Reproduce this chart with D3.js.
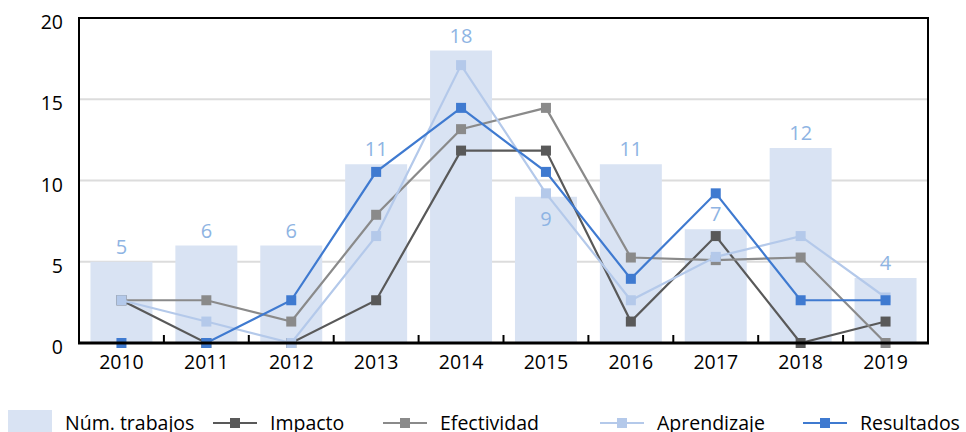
<!DOCTYPE html>
<html>
<head>
<meta charset="utf-8">
<script src="https://cdn.jsdelivr.net/npm/d3@7"></script>
<style>
  html, body { margin: 0; padding: 0; background: #fff; }
  svg { display: block; font-family: "Open Sans", sans-serif; }
</style>
</head>
<body>
<svg id="chart" width="966" height="432"></svg>
<script>
// ---- data ----
const years = ["2010","2011","2012","2013","2014","2015","2016","2017","2018","2019"];
const trabajos = [5, 6, 6, 11, 18, 9, 11, 7, 12, 4];
const impacto = [2.63, 0, 0, 2.63, 11.84, 11.84, 1.32, 6.58, 0, 1.32];
const efectividad = [2.63, 2.63, 1.32, 7.89, 13.16, 14.47, 5.26, 5.1, 5.26, 0];
const aprendizaje = [2.63, 1.32, 0, 6.58, 17.1, 9.21, 2.63, 5.3, 6.58, 2.8];
const resultados = [0, 0, 2.63, 10.53, 14.47, 10.53, 3.95, 9.21, 2.63, 2.63];
const yTicks = [0, 5, 10, 15, 20];
const seriesNames = ["Impacto", "Efectividad", "Aprendizaje", "Resultados"];
const barName = "Núm. trabajos";
const labelsInside = ["2015"];

(function () {
// ---- styles ----
const colors = {
  "Impacto": "#595959",
  "Efectividad": "#8a8a8a",
  "Aprendizaje": "#b4c9ea",
  "Resultados": "#3f7ad0"
};
const barColor = "#d9e3f3";
const barLabelColor = "#8eb4e3";

const series = [
  { name: "Impacto", values: impacto },
  { name: "Efectividad", values: efectividad },
  { name: "Aprendizaje", values: aprendizaje },
  { name: "Resultados", values: resultados }
];

const svg = d3.select("#chart");
const pLeft = 79, pRight = 928, pTop = 18, pBottom = 343;

const x = d3.scaleBand().domain(years).range([pLeft, pRight])
  .paddingInner(0.27).paddingOuter(0.135);
const y = d3.scaleLinear().domain([0, 20]).range([pBottom, pTop]);

// gridlines
svg.append("g").selectAll("line")
  .data(yTicks.filter(t => t > 0 && t < 20))
  .join("line")
  .attr("x1", pLeft).attr("x2", pRight)
  .attr("y1", d => y(d)).attr("y2", d => y(d))
  .attr("stroke", "#dcdcdc").attr("stroke-width", 2);

// bars
svg.append("g").selectAll("rect")
  .data(years.map((yr, i) => ({ yr, v: trabajos[i] })))
  .join("rect")
  .attr("x", d => x(d.yr))
  .attr("width", x.bandwidth())
  .attr("y", d => y(d.v))
  .attr("height", d => y(0) - y(d.v))
  .attr("fill", barColor);

// bar labels
svg.append("g").selectAll("text")
  .data(years.map((yr, i) => ({ yr, v: trabajos[i] })))
  .join("text")
  .attr("x", d => x(d.yr) + x.bandwidth() / 2)
  .attr("y", d => labelsInside.includes(d.yr) ? y(d.v) + 29 : y(d.v) - 8)
  .attr("text-anchor", "middle")
  .attr("font-size", 20)
  .attr("fill", barLabelColor)
  .text(d => d.v);

// lines
const cx = yr => x(yr) + x.bandwidth() / 2;
const line = d3.line().x((d, i) => cx(years[i])).y(d => y(d));
const ms = 10;
series.forEach(s => {
  const g = svg.append("g");
  g.append("path")
    .attr("d", line(s.values))
    .attr("fill", "none")
    .attr("stroke", colors[s.name])
    .attr("stroke-width", 2.2);
  g.selectAll("rect")
    .data(s.values)
    .join("rect")
    .attr("x", (d, i) => cx(years[i]) - ms / 2)
    .attr("y", d => y(d) - ms / 2)
    .attr("width", ms).attr("height", ms)
    .attr("fill", colors[s.name]);
});

// frame
svg.append("rect")
  .attr("x", pLeft).attr("y", pTop)
  .attr("width", pRight - pLeft).attr("height", pBottom - pTop)
  .attr("fill", "none").attr("stroke", "#000").attr("stroke-width", 2);
svg.append("line")
  .attr("x1", pLeft - 1).attr("x2", pRight + 1)
  .attr("y1", pBottom).attr("y2", pBottom)
  .attr("stroke", "#000").attr("stroke-width", 3);

// x ticks (inward, between categories)
const step = x.step();
const boundaries = years.slice(1).map(yr => x(yr) - step * x.paddingInner() / 2);
svg.append("g").selectAll("line")
  .data(boundaries)
  .join("line")
  .attr("x1", d => d).attr("x2", d => d)
  .attr("y1", pBottom).attr("y2", pBottom - 8)
  .attr("stroke", "#000").attr("stroke-width", 2);

// x labels
svg.append("g").selectAll("text")
  .data(years)
  .join("text")
  .attr("x", d => cx(d))
  .attr("y", pBottom + 26)
  .attr("text-anchor", "middle")
  .attr("font-size", 19.5)
  .attr("fill", "#000")
  .text(d => d);

// y labels
svg.append("g").selectAll("text")
  .data(yTicks)
  .join("text")
  .attr("x", 63)
  .attr("y", d => y(d) + 11)
  .attr("text-anchor", "end")
  .attr("font-size", 19.5)
  .attr("fill", "#000")
  .text(d => d);

// legend
const leg = svg.append("g");
const ly = 423;
leg.append("rect").attr("x", 8).attr("y", 410).attr("width", 44).attr("height", 24).attr("fill", barColor);
leg.append("text").attr("x", 65).attr("y", ly + 7).attr("font-size", 19.5).text(barName);
const legX = [213, 383, 600, 803];
seriesNames.forEach((n, i) => {
  const x0 = legX[i];
  leg.append("line").attr("x1", x0).attr("x2", x0 + 44)
    .attr("y1", ly).attr("y2", ly)
    .attr("stroke", colors[n]).attr("stroke-width", 2.2);
  leg.append("rect").attr("x", x0 + 22 - 5).attr("y", ly - 5)
    .attr("width", 10).attr("height", 10).attr("fill", colors[n]);
  leg.append("text").attr("x", x0 + 57).attr("y", ly + 7)
    .attr("font-size", 19.5).text(n);
});
})();
</script>
</body>
</html>
